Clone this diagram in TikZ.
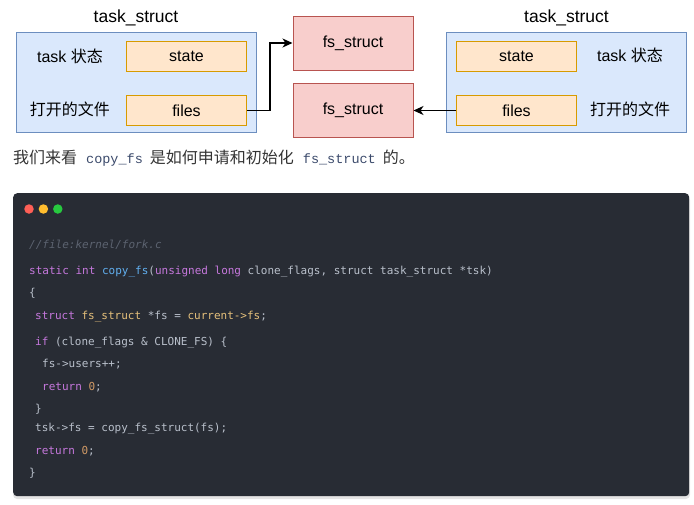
\documentclass[tikz,border=0pt]{standalone}
\usepackage{fontspec}
\setmainfont{Liberation Sans}
\setmonofont{DejaVu Sans Mono}
\newfontfamily\cjk{Noto Sans CJK SC}
\newfontfamily\inlinemono{Liberation Mono}
\usepackage{xcolor}
\definecolor{FillBlue}{HTML}{DAE8FC}
\definecolor{BorderBlue}{HTML}{6C8EBF}
\definecolor{FillOrange}{HTML}{FFE6CC}
\definecolor{BorderOrange}{HTML}{D79B00}
\definecolor{FillRed}{HTML}{F8CECC}
\definecolor{BorderRed}{HTML}{B85450}
\definecolor{TextGray}{HTML}{333333}
\definecolor{InlineCode}{HTML}{3B4A6B}
\definecolor{CodeBg}{HTML}{282C34}
\definecolor{CodeShadow}{HTML}{E4E4E4}
\definecolor{CodePlain}{HTML}{B9C0CB}
\definecolor{CodeKw}{HTML}{C678DD}
\definecolor{CodeFn}{HTML}{61AFEF}
\definecolor{CodeType}{HTML}{E5C07B}
\definecolor{CodeNum}{HTML}{D19A66}
\definecolor{CodeComment}{HTML}{5C6370}
\definecolor{DotRed}{HTML}{FF5F56}
\definecolor{DotYellow}{HTML}{FFBD2E}
\definecolor{DotGreen}{HTML}{27C93F}
\usetikzlibrary{positioning, arrows.meta}

% code colouring
\newcommand{\ckw}[1]{\textcolor{CodeKw}{#1}}
\newcommand{\cfn}[1]{\textcolor{CodeFn}{#1}}
\newcommand{\cty}[1]{\textcolor{CodeType}{#1}}
\newcommand{\cnum}[1]{\textcolor{CodeNum}{#1}}
\newcommand{\inl}[1]{{\inlinemono\fontsize{13.5}{16}\selectfont\color{InlineCode}#1}}

\tikzset{
  % task_struct container
  taskbox/.style={
    rectangle, draw=BorderBlue, fill=FillBlue, line width=1pt,
    minimum width=240pt, minimum height=100pt
  },
  % field inside task_struct
  fieldbox/.style={
    rectangle, draw=BorderOrange, fill=FillOrange, line width=1pt,
    minimum width=120pt, minimum height=30pt,
    font=\fontsize{16}{19}\selectfont
  },
  % fs_struct box
  fsbox/.style={
    rectangle, draw=BorderRed, fill=FillRed, line width=1pt,
    minimum width=120pt, minimum height=54pt,
    font=\fontsize{16}{19}\selectfont
  },
  title/.style={font=\fontsize{17.5}{20}\selectfont, inner sep=1pt},
  fieldlabel/.style={font=\fontsize{16}{19}\selectfont, inner sep=1pt},
  % pointer arrow
  ptr/.style={-{Stealth[length=10pt,width=9pt,inset=3pt]}, line width=1.3pt, black},
  % code lines
  codeline/.style={anchor=base west, inner sep=0pt, text=CodePlain,
    font=\ttfamily\fontsize{11}{13}\selectfont},
  dot/.style={circle, inner sep=0pt, minimum size=9.5pt},
}

\begin{document}
\begin{tikzpicture}[x=1pt, y=-1pt]
  \useasboundingbox (0,0) rectangle (694,504);

  % left task_struct
  \node[taskbox] (ltask) at (136,82) {};
  \node[title, above=4pt of ltask] (ltitle) {task\_struct};
  \node[fieldbox] (lstate) at (186.5,56) {state};
  \node[fieldbox] (lfiles) at (186.5,110.5) {files};
  \node[fieldlabel] (lstatelbl) at (70,56) {task {\cjk 状态}};
  \node[fieldlabel] (lfileslbl) at (70,109) {\cjk 打开的文件};

  % fs_struct boxes
  \node[fsbox] (fstop) at (353,43) {fs\_struct};
  \node[fsbox] (fsbot) at (353,110) {fs\_struct};

  % right task_struct
  \node[taskbox] (rtask) at (566.5,82) {};
  \node[title, above=4pt of rtask] (rtitle) {task\_struct};
  \node[fieldbox] (rstate) at (516.5,56) {state};
  \node[fieldbox] (rfiles) at (516.5,110.5) {files};
  \node[fieldlabel] (rstatelbl) at (630,55) {task {\cjk 状态}};
  \node[fieldlabel] (rfileslbl) at (630,109) {\cjk 打开的文件};

  % pointers
  \draw[ptr] (lfiles.east) -- ++(23,0) |- (fstop.west);
  \draw[ptr] (rfiles.west) -- (rfiles.west -| fsbot.east);

  % sentence
  \node[anchor=base west, inner sep=0pt, text=TextGray,
    font=\cjk\fontsize{16}{19}\selectfont] (intro) at (13,163.5)
    {我们来看\hspace{9pt}\inl{copy\_fs}\hspace{7pt}是如何申请和初始化\hspace{9pt}\inl{fs\_struct}\hspace{7pt}的。};

  % code window
  \fill[CodeShadow, rounded corners=4pt] (13,196) rectangle (690,499);
  \node[fill=CodeBg, rounded corners=4pt, anchor=north west, inner sep=0pt,
    minimum width=676pt, minimum height=303pt] (code) at (13,193) {};
  \node[dot, fill=DotRed] (dred) at (29,209) {};
  \node[dot, fill=DotYellow, right=4.5pt of dred] (dyellow) {};
  \node[dot, fill=DotGreen, right=4.5pt of dyellow] (dgreen) {};

  \node[codeline, text=CodeComment] (c0) at (29,248) {\itshape //file:kernel/fork.c};
  \node[codeline] (c1) at (29,274) {\ckw{static} \ckw{int} \cfn{copy\_fs}(\ckw{unsigned} \ckw{long} clone\_flags, struct task\_struct *tsk)};
  \node[codeline] (c2) at (29,296) {\{};
  \node[codeline] (c3) at (35,319) {\ckw{struct} \cty{fs\_struct} *fs = \cty{current->fs};};
  \node[codeline] (c4) at (35,345) {\ckw{if} (clone\_flags \& CLONE\_FS) \{};
  \node[codeline] (c5) at (42,367) {fs->users++;};
  \node[codeline] (c6) at (42,390) {\ckw{return} \cnum{0};};
  \node[codeline] (c7) at (35,412) {\}};
  \node[codeline] (c8) at (35,431) {tsk->fs = copy\_fs\_struct(fs);};
  \node[codeline] (c9) at (35,454) {\ckw{return} \cnum{0};};
  \node[codeline] (c10) at (29,476) {\}};
\end{tikzpicture}
\end{document}
